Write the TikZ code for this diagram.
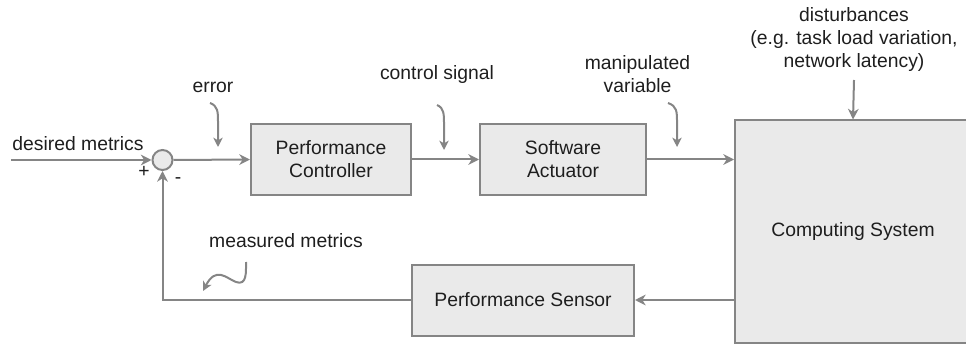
\documentclass[tikz,border=0pt]{standalone}
\usepackage{fontspec}
\setmainfont{Liberation Sans}
\usetikzlibrary{arrows.meta}

\definecolor{linegray}{HTML}{858585}
\definecolor{boxgray}{HTML}{EAEAEA}
\definecolor{inkgray}{HTML}{1E1E1E}

\begin{document}
\begin{tikzpicture}[x=0.75pt,y=-0.75pt,
  every node/.style={font=\fontsize{14.5}{17.25}\selectfont, text=inkgray, align=center, inner sep=0pt},
  block/.style={draw=linegray, fill=boxgray, line width=1.5pt},
  wire/.style={draw=linegray, line width=1.5pt, -{Stealth[length=8pt,width=8pt,inset=2.5pt]}},
  hint/.style={draw=linegray, line width=1.5pt, -{Stealth[length=7pt,width=7pt,inset=2pt]}}
]
  \useasboundingbox (0,0) rectangle (966,345);
  \clip (0,0) rectangle (966,345);

  % blocks
  \node[block, minimum width=120pt, minimum height=53.25pt] (ctrl) at (331,159.5) {Performance\\Controller};
  \node[block, minimum width=124.5pt, minimum height=53.25pt] (act) at (563,159.5) {Software\\Actuator};
  \node[block, minimum width=177pt, minimum height=166.5pt] (sys) at (853,231.5) {Computing System};
  \node[block, minimum width=166.5pt, minimum height=53.25pt] (sens) at (523,300) {Performance Sensor};

  % summing junction
  \node[block, circle, minimum size=15pt] (sum) at (162.5,160) {};
  \node (plus) at (144,172) {+};
  \node (minus) at (178,181) {-};

  % signal labels
  \node (desired) at (78,144) {desired metrics};
  \node (err) at (213,87) {error};
  \node (ctl) at (437,75) {control signal};
  \node (manip) at (637.5,74) {manipulated\\variable};
  \node (dist) at (854,40) {disturbances\\(e.g. task load variation,\\network latency)};
  \node (meas) at (286,241) {measured metrics};

  % forward path
  \coordinate (in) at (11,160);
  \draw[wire] (in) -- (sum.west);
  \draw[wire] (sum.east) -- (ctrl.west);
  \draw[wire] (ctrl.east) -- (act.west);
  \draw[wire] (act.east) -- (sys.west |- act.east);

  % disturbance input
  \coordinate (dtop) at (854,80);
  \draw[wire] (dtop) -- (sys.north);

  % feedback path
  \draw[wire] (sys.west |- sens.east) -- (sens.east);
  \draw[wire] (sens.west) -| (sum.south);

  % label pointers
  \coordinate (e0) at (210,103);   \coordinate (e1) at (218,147);
  \draw[hint] (e0) .. controls (218,106) and (218,112) .. (218,122) -- (e1);
  \coordinate (c0) at (437,105);   \coordinate (c1) at (444,150);
  \draw[hint] (c0) .. controls (444,108) and (444,114) .. (444,124) -- (c1);
  \coordinate (m0) at (668,103);   \coordinate (m1) at (677,147);
  \draw[hint] (m0) .. controls (677,106) and (677,112) .. (677,122) -- (m1);
  \coordinate (s0) at (246,262);   \coordinate (s1) at (203,291);
  \draw[hint] (s0) .. controls (246,272) and (247,286) .. (236,282)
              .. controls (226,278) and (216,266) .. (s1);
\end{tikzpicture}
\end{document}
